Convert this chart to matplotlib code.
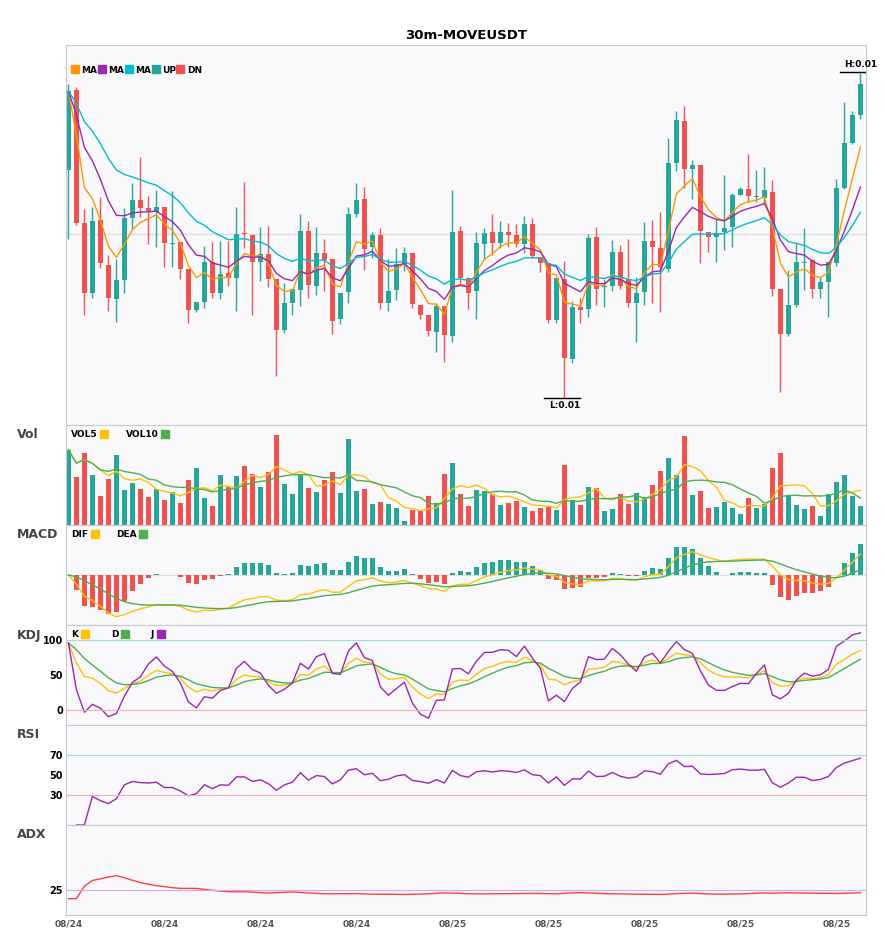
import matplotlib
matplotlib.use("Agg")
import matplotlib.pyplot as plt
from matplotlib.lines import Line2D
import numpy as np
import pandas as pd

# prices (pixel-based units, later scaled)
OPEN = [230, 310, 177, 107, 180, 135, 101, 120, 182, 200, 192, 188, 193, 156, 158, 131, 90, 98, 138, 107,
        127, 122, 167, 165, 138, 146, 121, 70, 97, 110, 169, 114, 147, 141, 81, 108, 186, 201, 153, 165,
        97, 110, 136, 147, 95, 85, 68, 94, 64, 169, 122, 109, 156, 168, 157, 168, 165, 156, 176, 143,
        137, 80, 121, 41, 93, 91, 163, 113, 114, 148, 121, 97, 108, 159, 152, 131, 237, 279, 231, 235,
        168, 163, 168, 173, 205, 211, 203, 202, 208, 111, 66, 95, 137, 140, 111, 118, 137, 212, 257, 285]
CLOSE = [309, 177, 107, 179, 137, 102, 120, 182, 200, 192, 189, 193, 157, 157, 131, 90, 98, 138, 107, 126,
         122, 166, 166, 138, 146, 121, 70, 97, 111, 169, 115, 147, 140, 79, 107, 186, 200, 151, 165, 97,
         109, 136, 147, 96, 85, 69, 94, 65, 168, 122, 107, 157, 167, 157, 168, 165, 156, 176, 144, 137,
         80, 122, 42, 93, 90, 162, 111, 114, 148, 114, 97, 107, 159, 153, 133, 237, 280, 231, 235, 169,
         163, 167, 172, 205, 211, 204, 203, 210, 111, 66, 95, 138, 138, 111, 118, 138, 212, 257, 285, 316]
HIGH = [316, 313, 191, 193, 203, 145, 141, 192, 217, 243, 204, 210, 193, 209, 158, 131, 98, 154, 158, 159,
        159, 193, 218, 165, 173, 174, 121, 117, 111, 186, 179, 173, 161, 141, 107, 193, 217, 213, 168, 172,
        141, 152, 153, 147, 95, 85, 97, 94, 210, 174, 122, 168, 172, 186, 179, 177, 176, 184, 182, 143,
        137, 122, 139, 99, 102, 166, 173, 121, 160, 155, 161, 123, 178, 180, 188, 262, 289, 294, 240, 235,
        168, 181, 225, 207, 213, 246, 230, 233, 220, 111, 130, 158, 172, 141, 123, 138, 221, 298, 289, 328]
LOW = [161, 175, 85, 102, 132, 89, 78, 107, 171, 183, 156, 153, 133, 133, 121, 77, 88, 92, 102, 101,
       114, 89, 152, 85, 119, 113, 24, 67, 85, 94, 102, 105, 109, 66, 76, 97, 183, 130, 142, 91,
       89, 100, 129, 92, 81, 64, 48, 38, 58, 117, 91, 81, 141, 145, 152, 153, 153, 147, 142, 128,
       77, 77, 2, 37, 77, 83, 95, 93, 109, 111, 93, 58, 95, 97, 88, 128, 229, 212, 201, 137,
       148, 138, 150, 153, 205, 198, 198, 195, 104, 8, 64, 93, 110, 102, 102, 83, 134, 211, 256, 281]
VOLUME = [226, 145, 217, 151, 88, 139, 211, 106, 127, 109, 85, 109, 76, 100, 67, 136, 172, 82, 58, 151,
          115, 148, 178, 154, 115, 160, 271, 124, 94, 154, 112, 100, 136, 160, 97, 259, 103, 109, 64, 70,
          64, 52, 13, 46, 43, 88, 67, 154, 187, 94, 58, 106, 103, 94, 61, 67, 73, 55, 43, 52,
          58, 46, 181, 76, 61, 115, 112, 43, 49, 94, 64, 97, 85, 121, 163, 202, 151, 268, 91, 103,
          52, 55, 70, 52, 34, 82, 52, 64, 172, 217, 88, 61, 49, 58, 28, 94, 130, 151, 88, 58]
DATE_TICKS = [0, 12, 24, 36, 48, 60, 72, 84, 96]
DATE_LABELS = ["08/24", "08/24", "08/24", "08/24", "08/25", "08/25", "08/25", "08/25", "08/25"]

UP, DN = "#26a69a", "#ef5350"
BG = "#f9f9fc"


def P(v):
    # chart units -> price
    return np.asarray(v, dtype=float) / 1e5 + 0.008


df = pd.DataFrame({"o": P(OPEN), "c": P(CLOSE), "h": P(HIGH), "l": P(LOW), "v": VOLUME})
x = np.arange(len(df))
up = df.c >= df.o
cols = np.where(up, UP, DN)

# indicators
ma5 = df.c.ewm(span=5, adjust=False).mean()
ma10 = df.c.ewm(span=10, adjust=False).mean()
ma20 = df.c.ewm(span=20, adjust=False).mean()
vol5 = df.v.rolling(5, min_periods=1).mean()
vol10 = df.v.rolling(10, min_periods=1).mean()

dif = df.c.ewm(span=12, adjust=False).mean() - df.c.ewm(span=26, adjust=False).mean()
dea = dif.ewm(span=9, adjust=False).mean()
hist = 2 * (dif - dea)

ll = df.l.rolling(9, min_periods=1).min()
hh = df.h.rolling(9, min_periods=1).max()
rsv = (df.c - ll) / (hh - ll) * 100
k = rsv.ewm(com=2, adjust=False).mean()
d = k.ewm(com=2, adjust=False).mean()
j = 3 * k - 2 * d

delta = df.c.diff()
gain = delta.clip(lower=0).ewm(alpha=1 / 14, adjust=True).mean()
loss = (-delta.clip(upper=0)).ewm(alpha=1 / 14, adjust=True).mean()
rsi = 100 * gain / (gain + loss)

tr = pd.concat([df.h - df.l, (df.h - df.c.shift()).abs(), (df.l - df.c.shift()).abs()], axis=1).max(axis=1)
upm = df.h.diff()
dnm = -df.l.diff()
pdm = pd.Series(np.where((upm > dnm) & (upm > 0), upm, 0.0))
ndm = pd.Series(np.where((dnm > upm) & (dnm > 0), dnm, 0.0))
atr = tr.ewm(alpha=1 / 14, adjust=True).mean()
pdi = 100 * pdm.ewm(alpha=1 / 14, adjust=True).mean() / atr
ndi = 100 * ndm.ewm(alpha=1 / 14, adjust=True).mean() / atr
dx = (100 * (pdi - ndi).abs() / (pdi + ndi)).fillna(0)
adx = dx.ewm(alpha=1 / 14, adjust=True).mean()

W, H = 885, 950
fig = plt.figure(figsize=(W / 100, H / 100), dpi=100)


def panel(top, bottom):
    ax = fig.add_axes([66 / W, 1 - bottom / H, 800 / W, (bottom - top) / H])
    ax.set_facecolor(BG)
    for s in ax.spines.values():
        s.set_color("#c8c8d0")
    ax.set_xlim(-0.3, 99.7)
    ax.set_xticks([])
    ax.tick_params(axis="y", length=0, labelsize=7, pad=2)
    return ax


def bold_ticks(ax):
    for t in ax.get_yticklabels():
        t.set_fontweight("bold")


def sq_legend(ax, items, spacing=0.4, first=False, y=1.0):
    handles = [Line2D([], [], marker="s", ls="", color=c, markersize=6, label=t) for t, c in items]
    ax.legend(handles=handles, loc="upper left", bbox_to_anchor=(0, y), ncol=len(items), frameon=False,
              prop={"size": 6.5, "weight": "bold"}, handletextpad=0.3, handlelength=0.8,
              columnspacing=spacing, borderaxespad=0.2, markerfirst=first)


# main
ax = panel(45, 425)
ax.vlines(x, df.l, df.h, color=cols, lw=1)
ax.bar(x, (df.c - df.o).abs().clip(lower=0.00001), bottom=np.minimum(df.o, df.c), width=0.72, color=cols)
ax.plot(x, ma5, color="#ff9800", lw=1)
ax.plot(x, ma10, color="#9c27b0", lw=1)
ax.plot(x, ma20, color="#00bcd4", lw=1)
ax.axhline(P(166), color="#dddde2", lw=1, zorder=0)
ax.set_ylim(P(-25), P(355))
ax.set_yticks([])
ih, il = df.h.idxmax(), df.l.idxmin()
ax.plot([ih - 2.5, ih + 2.0], [df.h[ih]] * 2, color="black", lw=1)
ax.text(ih, df.h[ih] + 0.00003, f"H:{df.h[ih]:.2f}", fontsize=6.5, fontweight="bold", ha="center", va="bottom")
ax.plot([il - 2.5, il + 2.0], [df.l[il]] * 2, color="black", lw=1)
ax.text(il, df.l[il] - 0.00003, f"L:{df.l[il]:.2f}", fontsize=6.5, fontweight="bold", ha="center", va="top")
sq_legend(ax, [("MA", "#ff9800"), ("MA", "#9c27b0"), ("MA", "#00bcd4"), ("UP", UP), ("DN", DN)], 0.1,
          first=True, y=0.96)
ax.set_title("30m-MOVEUSDT", fontsize=9.5, fontweight="bold", pad=4)

# volume
ax = panel(425, 525)
ax.bar(x, df.v, width=0.72, color=cols)
ax.plot(x, vol5, color="#ffc107", lw=1)
ax.plot(x, vol10, color="#4caf50", lw=1)
ax.set_ylim(0, 300)
ax.set_yticks([])
sq_legend(ax, [("VOL5", "#ffc107"), ("VOL10", "#4caf50")], 2.0)
fig.text(17 / W, 1 - 435 / H, "Vol", fontsize=9, fontweight="bold", color="#444", va="center")

# macd
ax = panel(525, 625)
ax.bar(x, hist, width=0.72, color=np.where(hist >= 0, UP, DN))
ax.plot(x, dif, color="#ffc107", lw=1)
ax.plot(x, dea, color="#4caf50", lw=1)
ax.axhline(0, color="#dddde2", lw=0.8, zorder=0)
m = max(abs(hist).max(), abs(dif).max(), abs(dea).max())
ax.set_ylim(-m * 1.2, m * 1.2)
ax.set_yticks([])
sq_legend(ax, [("DIF", "#ffc107"), ("DEA", "#4caf50")], 2.0)
fig.text(17 / W, 1 - 535 / H, "MACD", fontsize=9, fontweight="bold", color="#444", va="center")

# kdj
ax = panel(625, 725)
ax.plot(x, k, color="#ffc107", lw=1)
ax.plot(x, d, color="#4caf50", lw=1)
ax.plot(x, j, color="#9c27b0", lw=1)
ax.axhline(100, color="#a8d8d8", lw=0.8)
ax.axhline(0, color="#f4b0b0", lw=0.8)
ax.set_ylim(-21, 121)
ax.set_yticks([0, 50, 100])
bold_ticks(ax)
sq_legend(ax, [("K", "#ffc107"), ("D", "#4caf50"), ("J", "#9c27b0")], 2.5)
fig.text(17 / W, 1 - 635 / H, "KDJ", fontsize=9, fontweight="bold", color="#444", va="center")

# rsi
ax = panel(725, 825)
ax.plot(x, rsi, color="#9c27b0", lw=1)
ax.axhline(70, color="#a8d8d8", lw=0.8)
ax.axhline(30, color="#f4b0b0", lw=0.8)
ax.set_ylim(0, 100)
ax.set_yticks([30, 50, 70])
bold_ticks(ax)
fig.text(17 / W, 1 - 735 / H, "RSI", fontsize=9, fontweight="bold", color="#444", va="center")

# adx
ax = panel(825, 915)
ax.plot(x, adx, color="#ff4040", lw=1)
ax.axhline(25, color="#d8a8e8", lw=0.8)
ax.set_ylim(-47, 212)
ax.set_yticks([25])
bold_ticks(ax)
ax.set_xticks(DATE_TICKS)
ax.set_xticklabels(DATE_LABELS, fontsize=6.5, fontweight="bold", color="#555")
ax.tick_params(axis="x", length=0, pad=3)
fig.text(17 / W, 1 - 835 / H, "ADX", fontsize=9, fontweight="bold", color="#444", va="center")

fig.savefig("out.png", dpi=100, facecolor="white")
